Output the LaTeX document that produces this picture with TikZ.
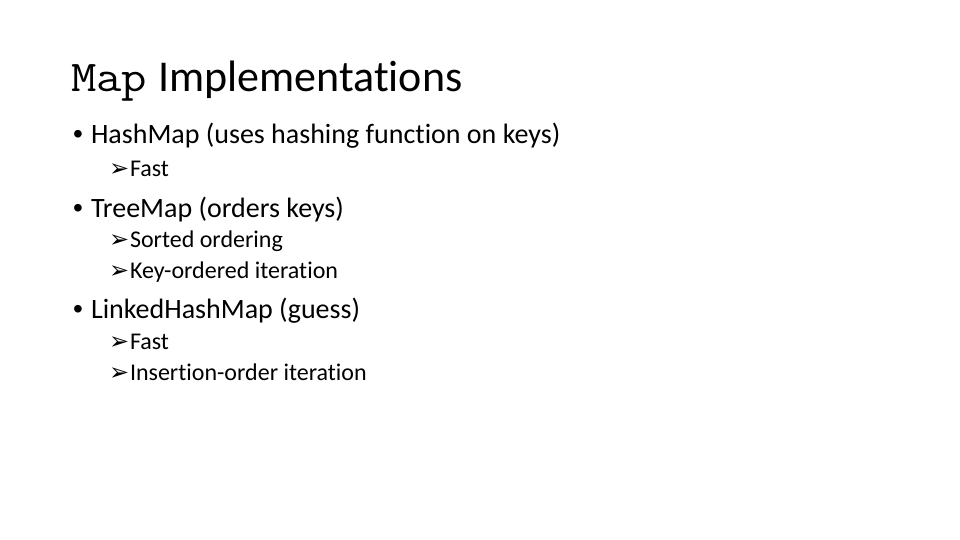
\documentclass[tikz,border=0pt]{standalone}
\usepackage{fontspec}
\setmainfont{Carlito}[Ligatures=NoCommon]
\newfontfamily\symfont{DejaVu Sans}
\newfontfamily\bulfont{Liberation Sans}
\begin{document}
\begin{tikzpicture}[x=1pt,y=1pt,
  every node/.style={inner sep=0pt,outer sep=0pt,anchor=base west},
  titletext/.style={font=\fontsize{44}{52}\selectfont},
  lvlone/.style={font=\fontsize{28}{34}\selectfont},
  lvltwo/.style={font=\fontsize{24}{29}\selectfont},
  bul/.style={font=\bulfont\fontsize{28}{34}\selectfont},
  arr/.style={font=\symfont\fontsize{24}{29}\selectfont}]
\useasboundingbox[fill=white] (0,0) rectangle (960,-540);
\node[titletext] (title) at (71,-92) {\scalebox{1.12}[1]{\fontsize{44}{52}\selectfont\ttfamily Map} \hspace*{1pt}Implementations};
% level one
\node[bul] (b1) at (73,-144) {•};
\node[lvlone] (t1) at (91,-144) {HashMap (uses hashing function on keys)};
\node[arr] (a11) at (109,-176) {➢};
\node[lvltwo] (t11) at (130,-176) {Fast};
\node[bul] (b2) at (73,-217) {•};
\node[lvlone] (t2) at (91,-217) {TreeMap (orders keys)};
\node[arr] (a21) at (109,-247) {➢};
\node[lvltwo] (t21) at (130,-247) {Sorted ordering};
\node[arr] (a22) at (109,-278) {➢};
\node[lvltwo] (t22) at (130,-278) {Key-ordered iteration};
\node[bul] (b3) at (73,-318) {•};
\node[lvlone] (t3) at (91,-318) {LinkedHashMap (guess)};
\node[arr] (a31) at (109,-349) {➢};
\node[lvltwo] (t31) at (130,-349) {Fast};
\node[arr] (a32) at (109,-380) {➢};
\node[lvltwo] (t32) at (130,-380) {Insertion-order iteration};
\end{tikzpicture}
\end{document}
